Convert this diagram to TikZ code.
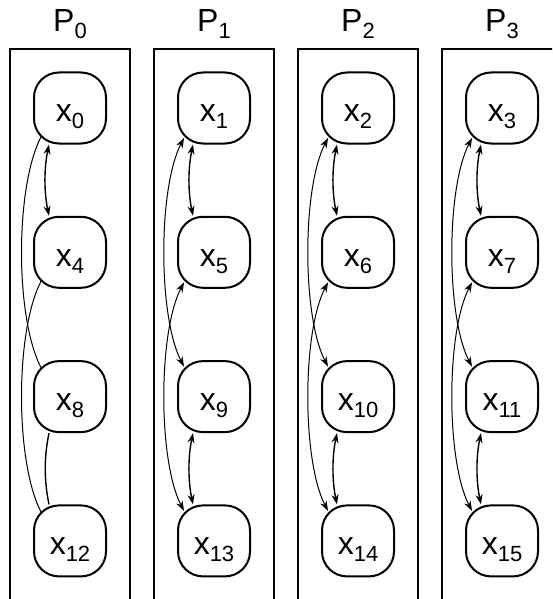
\documentclass[tikz,border=0pt]{standalone}
\usepackage{fontspec}
\setmainfont{Liberation Sans}
\usetikzlibrary{arrows.meta,calc}
\newcommand{\mysub}[1]{\raisebox{-7pt}{\fontsize{22}{22}\selectfont #1}}
\begin{document}
\begin{tikzpicture}[x=1pt,y=-1pt,
  proc/.style={draw,line width=2pt,rounded corners=25pt,minimum width=72pt,minimum height=71pt,inner sep=0pt,font=\fontsize{32}{38}\selectfont,text height=28pt,text depth=0.6pt},
  grp/.style={draw,line width=2pt},
  lab/.style={anchor=base,inner sep=0pt,font=\fontsize{32}{38}\selectfont},
  plainlink/.style={line width=1pt},
  plainv/.style={line width=1.4pt},
  arrlink/.style={line width=1pt,{Stealth[length=10pt,width=7pt]}-{Stealth[length=10pt,width=7pt]}},
  arrv/.style={line width=1.4pt,{Stealth[length=10pt,width=7pt]}-{Stealth[length=10pt,width=7pt]}}
]
\useasboundingbox (0,0) rectangle (552,599);
\clip (0,0) rectangle (552,599);
\foreach \c in {0,...,3}{
  \pgfmathsetmacro\cx{70+144*\c}
  \draw[grp] (\cx-60.5,49) rectangle (\cx+59.5,640);
  \node[lab] (p\c) at (\cx,32) {P\mysub{\c}};
  \foreach \r in {0,...,3}{
    \pgfmathtruncatemacro\i{\c+4*\r}
    \node[proc] (n\i) at (\cx,108+144.3*\r) {x\mysub{\i}};
  }
}
% column 0
\draw[arrv] ([xshift=-21pt]n0.south) .. controls +(-5,24) and +(-5,-24) .. ([xshift=-21pt]n4.north);
\draw[plainv] ([xshift=-21pt]n8.south) .. controls +(-5,24) and +(-5,-24) .. ([xshift=-21pt]n12.north);
\draw[plainlink] ([shift={(-29,29)}]n0.center) .. controls +(-26,50) and +(-26,-50) .. ([shift={(-29,-29)}]n8.center);
\draw[plainlink] ([shift={(-29,29)}]n4.center) .. controls +(-26,50) and +(-26,-50) .. ([shift={(-29,-29)}]n12.center);
% columns 1-3
\foreach \c in {1,2,3}{
  \pgfmathtruncatemacro\a{\c}
  \pgfmathtruncatemacro\b{\c+4}
  \pgfmathtruncatemacro\d{\c+8}
  \pgfmathtruncatemacro\e{\c+12}
  \draw[arrv] ([xshift=-21pt]n\a.south) .. controls +(-5,24) and +(-5,-24) .. ([xshift=-21pt]n\b.north);
  \draw[arrv] ([xshift=-21pt]n\d.south) .. controls +(-5,24) and +(-5,-24) .. ([xshift=-21pt]n\e.north);
  \draw[arrlink] ([shift={(-30,30)}]n\a.center) .. controls +(-26,50) and +(-26,-50) .. ([shift={(-30,-30)}]n\d.center);
  \draw[arrlink] ([shift={(-30,30)}]n\b.center) .. controls +(-26,50) and +(-26,-50) .. ([shift={(-30,-30)}]n\e.center);
}
\end{tikzpicture}
\end{document}
